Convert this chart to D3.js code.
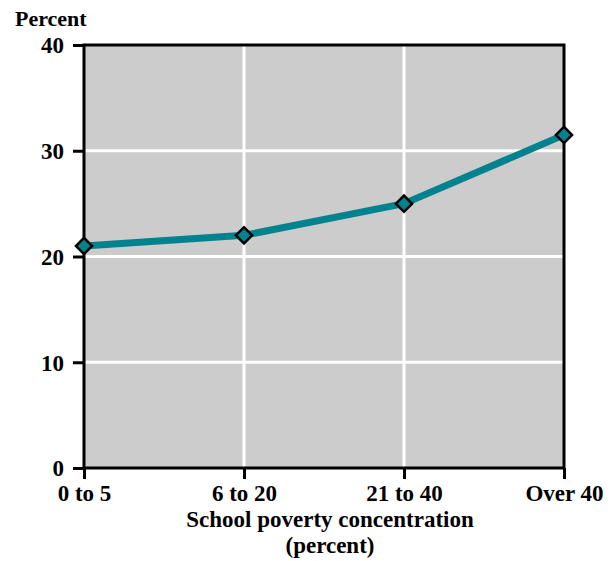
<!DOCTYPE html>
<html>
<head>
<meta charset="utf-8">
<script src="https://cdn.jsdelivr.net/npm/d3@7"></script>
<style>
  html, body { margin: 0; padding: 0; background: #ffffff; }
  svg { display: block; }
  text { font-family: "Liberation Serif", "DejaVu Serif", serif; font-weight: bold; fill: #000; }
</style>
</head>
<body>
<svg id="chart" width="610" height="561"></svg>
<script>
// Share of students, by school poverty concentration
const categories = ["0 to 5", "6 to 20", "21 to 40", "Over 40"];
const values = [21, 22, 25, 31.5];
const yTicks = [0, 10, 20, 30, 40];
const yLabel = "Percent";
const xTitleLines = ["School poverty concentration", "(percent)"];

const width = 610, height = 561;
const margin = { top: 45, right: 46, bottom: 93, left: 84 };
const innerW = width - margin.left - margin.right;
const innerH = height - margin.top - margin.bottom;

const svg = d3.select("#chart");
const g = svg.append("g").attr("transform", `translate(${margin.left},${margin.top})`);

const x = d3.scalePoint().domain(categories).range([0, innerW]);
const y = d3.scaleLinear().domain([0, 40]).range([innerH, 0]);

// plot background
g.append("rect")
  .attr("x", 0).attr("y", 0)
  .attr("width", innerW).attr("height", innerH)
  .attr("fill", "#cccccc");

// white grid lines
g.append("g").selectAll("line")
  .data(yTicks.filter(d => d > 0 && d < 40))
  .join("line")
  .attr("x1", 0).attr("x2", innerW)
  .attr("y1", d => y(d)).attr("y2", d => y(d))
  .attr("stroke", "#ffffff").attr("stroke-width", 3);

g.append("g").selectAll("line")
  .data(categories.slice(1, -1))
  .join("line")
  .attr("x1", d => x(d)).attr("x2", d => x(d))
  .attr("y1", 0).attr("y2", innerH)
  .attr("stroke", "#ffffff").attr("stroke-width", 3);

// frame
g.append("rect")
  .attr("x", 0).attr("y", 0)
  .attr("width", innerW).attr("height", innerH)
  .attr("fill", "none")
  .attr("stroke", "#000").attr("stroke-width", 3);

// y axis
const yAxis = d3.axisLeft(y).tickValues(yTicks).tickSize(11).tickPadding(9).tickFormat(d3.format("d"));
const yG = g.append("g").call(yAxis);
yG.select(".domain").remove();
yG.selectAll(".tick line").attr("stroke", "#000").attr("stroke-width", 3);
yG.selectAll(".tick text")
  .style("font-size", "23px")
  .style("font-family", "'Liberation Serif', serif")
  .style("font-weight", "bold")
  .attr("dy", "0.34em");

// x axis
const xAxis = d3.axisBottom(x).tickSize(11).tickPadding(6);
const xG = g.append("g").attr("transform", `translate(0,${innerH})`).call(xAxis);
xG.select(".domain").remove();
xG.selectAll(".tick line").attr("stroke", "#000").attr("stroke-width", 3);
xG.selectAll(".tick text")
  .style("font-size", "23px")
  .style("font-family", "'Liberation Serif', serif")
  .style("font-weight", "bold")
  .attr("dy", "0.71em");

// axis titles
svg.append("text")
  .attr("x", 15).attr("y", 26)
  .style("font-size", "22px")
  .text(yLabel);

svg.append("g").selectAll("text")
  .data(xTitleLines)
  .join("text")
  .attr("text-anchor", "middle")
  .attr("x", 330)
  .attr("y", (d, i) => 527 + i * 26)
  .style("font-size", "23px")
  .text(d => d);

// data line
const pts = categories.map((c, i) => ({ c, v: values[i] }));
g.append("path")
  .datum(pts)
  .attr("fill", "none")
  .attr("stroke", "#00838f")
  .attr("stroke-width", 7)
  .attr("stroke-linejoin", "round")
  .attr("d", d3.line().x(d => x(d.c)).y(d => y(d.v)));

// diamond markers
g.append("g").selectAll("path")
  .data(pts)
  .join("path")
  .attr("transform", d => `translate(${x(d.c)},${y(d.v)}) rotate(45)`)
  .attr("d", d3.symbol().type(d3.symbolSquare).size(130))
  .attr("fill", "#00838f")
  .attr("stroke", "#000")
  .attr("stroke-width", 2.5);
</script>
</body>
</html>
